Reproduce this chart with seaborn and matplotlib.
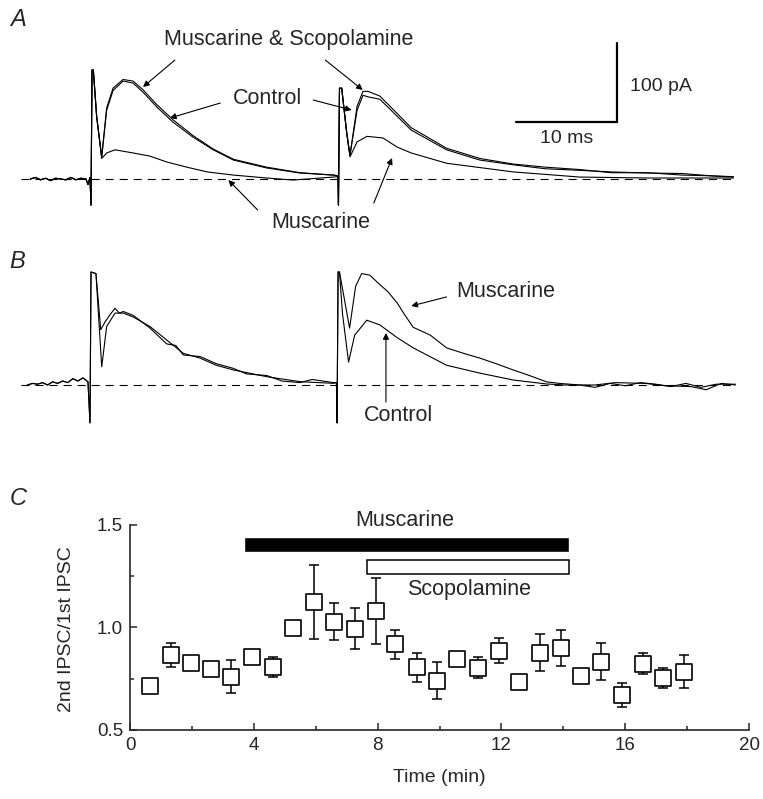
import matplotlib
matplotlib.use("Agg")
import pandas as pd
import matplotlib.pyplot as plt
from matplotlib.ticker import MultipleLocator
import seaborn as sns

sns.set_style("ticks")
plt.rcParams['font.family'] = ['Liberation Sans', 'DejaVu Sans']
plt.rcParams['lines.scale_dashes'] = False

# ---- Panel A traces: time (ms from 1st stimulus), current (pA) ----
a_pre_t = [-6.0, -5.5, -5.0, -4.5, -4.0, -3.5, -3.0, -2.5, -2.0, -1.5, -1.0, -0.5, -0.3, -0.1]
a_pre_i = [0, 2, -1, 1, -2, 1, 0, -1, 2, -1, 1, 0, -7, 2]

a_ctrl_t = a_pre_t + [0.0, 0.1, 0.23, 0.56, 1.06, 1.55, 2.18, 3.17, 4.16, 5.15, 6.53, 8.12, 10.1, 12.1,
                      14.1, 17.4, 20.7, 24.0, 24.45, 24.5, 24.6, 24.82, 25.32, 25.64, 26.34, 26.93,
                      27.43, 28.6, 31.7, 35.2, 38.5, 41.8, 45.0, 48.4, 51.5, 55.1, 58.5, 61.6, 63.6]
a_ctrl_i = a_pre_i + [-33, 138, 138, 79, 28, 87, 112, 124, 121.5, 110, 91, 72, 53, 37,
                      24, 14, 7.6, 5, 4, -33, 115, 115, 58, 30, 87, 106,
                      104, 101, 62, 37, 24, 18, 13, 11, 9, 7.6, 7, 3.8, 2.5]

a_ms_t = a_pre_t + [0.0, 0.1, 0.23, 0.56, 1.06, 1.55, 2.18, 3.17, 4.16, 5.15, 6.53, 8.12, 10.1, 12.1,
                    14.1, 17.4, 20.7, 24.0, 24.45, 24.5, 24.6, 24.82, 25.32, 25.64, 26.34, 26.93,
                    27.43, 28.6, 31.7, 35.2, 38.5, 41.8, 45.0, 48.4, 51.5, 55.1, 58.5, 61.6, 63.6]
a_ms_i = a_pre_i + [-33, 138, 138, 79, 28, 90, 115, 126, 124, 113, 94, 75, 55, 38,
                    25, 15, 8, 5, 4, -33, 115, 115, 58, 30, 92, 111,
                    111, 105, 65, 39, 26, 19, 15, 12, 8, 8, 5, 4, 3]

a_musc_t = a_pre_t + [0.0, 0.1, 0.23, 0.56, 1.06, 1.55, 2.38, 4.16, 5.84, 7.52, 9.5, 11.5, 14.1, 17.4,
                      20.0, 24.0, 24.45, 24.5, 24.6, 24.82, 25.32, 25.64, 26.34, 27.33, 28.9, 30.3,
                      31.7, 35.2, 41.8, 48.4, 55.1, 63.6]
a_musc_i = a_pre_i + [-33, 138, 138, 79, 26, 33, 37, 33, 29, 21.5, 15, 9, 5, 1.3,
                      -1.3, 2.5, 3, -33, 115, 115, 58, 28, 47, 54, 52, 40.5,
                      33, 20, 9, 2.5, 1.3, 1.3]

# ---- Panel B traces ----
b_pre_t = [-6.2, -5.7, -5.2, -4.7, -4.2, -3.7, -3.2, -2.7, -2.2, -1.7, -1.2, -0.7, -0.2]
b_pre_i = [0, 2, 1, 3, 0, 4, 2, 5, 3, 8, 5, 9, 4]

b_ctrl_t = b_pre_t + [0.0, 0.1, 0.59, 1.16, 1.65, 2.48, 3.3, 4.29, 5.94, 7.59, 9.24, 10.9, 12.5, 14.2,
                      17.5, 20.8, 24.1, 24.4, 24.46, 24.56, 24.7, 25.0, 25.6, 26.2, 27.4, 28.7,
                      30.4, 32.0, 35.3, 38.6, 41.9, 45.2, 47.0, 50.0, 52.0, 55.0, 57.0, 59.5,
                      61.0, 62.5, 63.9]
b_ctrl_i = b_pre_i + [-48, 143, 141, 23, 74, 91, 91, 86, 74, 57, 40, 34, 25, 19,
                      10.5, 4.2, 2.1, 3, -48, 143, 143, 90, 29, 63, 82, 76,
                      60, 47, 25, 15, 6.3, 1.3, 0, 0, 3, 2, -1, -2,
                      -6, 2, 0]

b_musc_t = b_pre_t + [0.0, 0.1, 0.59, 1.06, 1.5, 1.98, 2.48, 2.9, 3.3, 4.29, 5.94, 7.59, 8.5, 9.24,
                      10.9, 12.5, 14.2, 15.5, 17.5, 19.0, 20.8, 22.0, 24.1, 24.4, 24.46, 24.56,
                      24.7, 25.7, 26.3, 26.9, 27.7, 28.7, 29.5, 30.4, 31.2, 32.0, 33.7, 35.3,
                      37.0, 38.6, 40.2, 41.9, 43.5, 45.2, 46.5, 48.5, 50.0, 51.5, 53.0, 54.5,
                      56.0, 57.5, 59.0, 60.5, 62.0, 63.9]
b_musc_i = b_pre_i + [-48, 143, 141, 70, 80, 89, 97, 91, 93, 88, 72, 52, 50, 38,
                      36, 27, 21, 14, 12, 5, 3, 7, 3, 3, -48, 143,
                      143, 72, 125, 141, 139, 127, 118, 104, 88, 73, 63, 47,
                      40, 34, 27, 19, 12, 4, 2, 0, -3, 2, -1, 3,
                      1, -2, 2, -3, 1, 1]

# scale bar for A/B (ms, pA)
bar_ms = 10
bar_pA = 100

# ---- Panel C: paired-pulse ratio ----
time_min = [0.65, 1.31, 1.96, 2.62, 3.27, 3.94, 4.62, 5.27, 5.95, 6.59, 7.27, 7.95, 8.56, 9.26,
            9.91, 10.57, 11.23, 11.91, 12.57, 13.25, 13.92, 14.56, 15.23, 15.90, 16.58, 17.23, 17.90]
ratio = [0.715, 0.866, 0.825, 0.796, 0.759, 0.856, 0.806, 0.995, 1.123, 1.029, 0.994, 1.079, 0.917,
         0.806, 0.740, 0.845, 0.804, 0.887, 0.736, 0.877, 0.900, 0.764, 0.832, 0.671, 0.824, 0.754, 0.785]
ratio_sem = [0.02, 0.057, 0.02, 0.02, 0.08, 0.02, 0.05, 0.02, 0.18, 0.09, 0.10, 0.16, 0.07,
             0.07, 0.09, 0.02, 0.05, 0.06, 0.02, 0.09, 0.09, 0.02, 0.09, 0.06, 0.05, 0.05, 0.08]
musc_on, musc_off = 3.68, 14.19
scop_on, scop_off = 7.67, 14.19

FS = 15.5
arrow = dict(arrowstyle='-|>', lw=0.8, color='k', mutation_scale=9, shrinkA=0, shrinkB=0)

fig = plt.figure(figsize=(7.63, 7.99), dpi=100)


def traces(ax, items):
    df = pd.concat([pd.DataFrame({'trace': n, 'time': t, 'current': i}) for n, t, i in items])
    sns.lineplot(data=df, x='time', y='current', units='trace', estimator=None, sort=False,
                 color='k', lw=0.8, ax=ax, legend=False)
    ax.set_axis_off()


# Panel A
axa = fig.add_axes([0, 0.7121, 1, 0.2503])
axa.plot([-6.9, 63.9], [0, 0], color='k', lw=0.8, dashes=(5.8, 4.3))
traces(axa, [('Control', a_ctrl_t, a_ctrl_i), ('Musc+Scop', a_ms_t, a_ms_i),
             ('Muscarine', a_musc_t, a_musc_i)])
axa.set_xlim(-9.01, 66.53)
axa.set_ylim(-64.56, 188.6)
axa.text(19.6, 176, 'Muscarine & Scopolamine', ha='center', va='center', fontsize=FS)
axa.annotate('', xy=(5.15, 116.5), xytext=(8.3, 150.6), arrowprops=arrow)
axa.annotate('', xy=(26.9, 112.7), xytext=(23.2, 150.6), arrowprops=arrow)
axa.text(17.5, 102.5, 'Control', ha='center', va='center', fontsize=FS)
axa.annotate('', xy=(7.8, 77.2), xytext=(12.8, 96.2), arrowprops=arrow)
axa.annotate('', xy=(25.8, 87.3), xytext=(22.0, 100), arrowprops=arrow)
axa.text(22.7, -54.4, 'Muscarine', ha='center', va='center', fontsize=FS)
axa.annotate('', xy=(13.6, -1.3), xytext=(16.5, -39.2), arrowprops=arrow)
axa.annotate('', xy=(29.8, 26.6), xytext=(28.0, -30.4), arrowprops=arrow)
sx, sy = 52.1, 72.2
axa.plot([sx - bar_ms, sx, sx], [sy, sy, sy + bar_pA], color='k', lw=1.6, solid_joinstyle='miter')
axa.text(sx + 1.3, sy + 45.5, f'{bar_pA} pA', ha='left', va='center', fontsize=14)
axa.text(sx - bar_ms / 2, sy - 20.3, f'{bar_ms} ms', ha='center', va='center', fontsize=14)

# Panel B
axb = fig.add_axes([0, 0.4431, 1, 0.2503])
axb.plot([-6.8, 63.9], [0, 0], color='k', lw=0.8, dashes=(5.8, 4.3))
traces(axb, [('Control', b_ctrl_t, b_ctrl_i), ('Muscarine', b_musc_t, b_musc_i)])
axb.set_xlim(-8.91, 66.63)
axb.set_ylim(-75.9, 177.2)
axb.text(36.3, 117.7, 'Muscarine', ha='left', va='center', fontsize=FS)
axb.annotate('', xy=(31.8, 100), xytext=(35.3, 111.4), arrowprops=arrow)
axb.text(30.5, -38, 'Control', ha='center', va='center', fontsize=FS)
axb.annotate('', xy=(29.3, 65.8), xytext=(29.3, -21.5), arrowprops=arrow)

# Panel C
axc = fig.add_axes([0.1704, 0.0864, 0.8113, 0.2566])
axc.errorbar(time_min, ratio, yerr=ratio_sem, fmt='none', ecolor='k', elinewidth=1.1,
             capsize=3.5, capthick=1.1, zorder=2)
sns.scatterplot(x=time_min, y=ratio, marker='s', s=145, facecolor='white', edgecolor='k',
                linewidth=1.2, zorder=3, ax=axc)
axc.barh(y=1.406, width=musc_off - musc_on, left=musc_on, height=0.072, color='k')
axc.barh(y=1.2955, width=scop_off - scop_on, left=scop_on, height=0.069,
         facecolor='white', edgecolor='k', lw=1.1)
axc.text(8.88, 1.524, 'Muscarine', ha='center', va='center', fontsize=FS, clip_on=False)
axc.text(10.94, 1.184, 'Scopolamine', ha='center', va='center', fontsize=FS)
axc.set_xlim(0, 20)
axc.set_ylim(0.5, 1.5)
axc.set_xticks([0, 4, 8, 12, 16, 20])
axc.set_yticks([0.5, 1.0, 1.5])
axc.set_yticklabels(['0.5', '1.0', '1.5'])
axc.xaxis.set_minor_locator(MultipleLocator(2))
axc.yaxis.set_minor_locator(MultipleLocator(0.25))
axc.tick_params(which='both', direction='in', width=1.1, labelsize=13.5, pad=5)
axc.tick_params(which='major', length=5)
axc.tick_params(which='minor', length=3)
for s in ['left', 'bottom']:
    axc.spines[s].set_linewidth(1.2)
sns.despine(ax=axc)
axc.set_xlabel('Time (min)', fontsize=14)
axc.set_ylabel('2nd IPSC/1st IPSC', fontsize=14)
axc.xaxis.set_label_coords(0.5, -0.19)
axc.yaxis.set_label_coords(-0.089, 0.49)

for letter, (px, py) in {'A': (18, 19), 'B': (17, 262), 'C': (18, 499)}.items():
    fig.text(px / 763, 1 - py / 799, letter, fontsize=17, style='italic', ha='center', va='center')

fig.savefig('out.png', dpi=100)
